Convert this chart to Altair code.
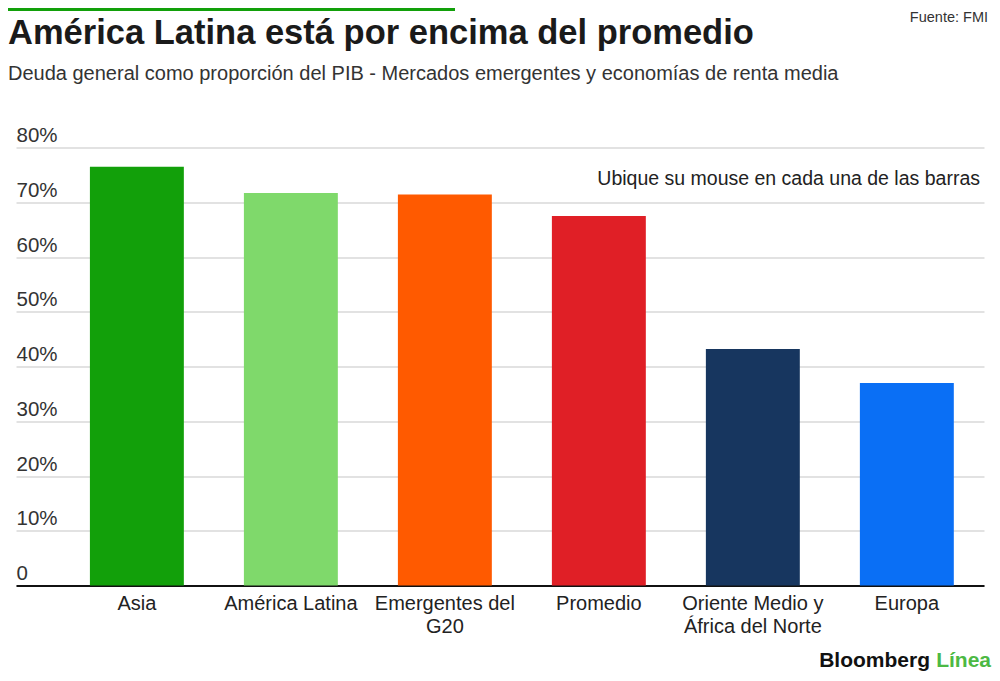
import altair as alt
import pandas as pd

categories = ["Asia", "América Latina", "Emergentes del G20", "Promedio",
              "Oriente Medio y África del Norte", "Europa"]
values = [76.5, 71.7, 71.4, 67.5, 43.2, 37.0]
colors = ["#12a00a", "#7fd96b", "#ff5a00", "#e01f26", "#17365f", "#0a6ff5"]
y_ticks = [0, 10, 20, 30, 40, 50, 60, 70, 80]

title = "América Latina está por encima del promedio"
subtitle = "Deuda general como proporción del PIB -  Mercados emergentes y economías de renta media"
source = "Fuente: FMI"
note = "Ubique su mouse en cada una de las barras"

FONT = "Liberation Sans"

df = pd.DataFrame({"region": categories, "deuda": values})

label_expr = ("datum.label == 'Emergentes del G20' ? ['Emergentes del', 'G20'] : "
              "datum.label == 'Oriente Medio y África del Norte' ? ['Oriente Medio y', 'África del Norte'] : datum.label")

bars = alt.Chart(df).mark_bar().encode(
    x=alt.X("region:N", sort=None, title=None,
            scale=alt.Scale(paddingInner=0.39, paddingOuter=0.338, align=0.71),
            axis=alt.Axis(labelAngle=0, labelExpr=label_expr, labelFont=FONT,
                          labelFontSize=20, labelColor="#222222", labelPadding=8,
                          labelLineHeight=23, ticks=False, domain=True,
                          domainColor="#111111", domainWidth=2, grid=False,
                          labelBaseline="top", labelLimit=300)),
    y=alt.Y("deuda:Q", title=None,
            scale=alt.Scale(domain=[0, 80], nice=False),
            axis=alt.Axis(values=y_ticks,
                          labelExpr="datum.value == 0 ? '0' : datum.value + '%'",
                          labelFont=FONT, labelFontSize=20.5, labelColor="#333333",
                          labelAlign="left", labelBaseline="alphabetic",
                          labelPadding=0, labelOffset=-6, ticks=False, domain=False,
                          grid=True, gridColor="#d9d9d9", gridWidth=1.5,
                          labelOverlap=False)),
    color=alt.Color("region:N", sort=None,
                    scale=alt.Scale(domain=categories, range=colors), legend=None),
)


def text_layer(txt, x, y, size, color, weight="normal", align="left"):
    return alt.Chart(pd.DataFrame({"t": [txt]})).mark_text(
        font=FONT, fontSize=size, color=color, fontWeight=weight, align=align,
        baseline="alphabetic"
    ).encode(x=alt.value(x), y=alt.value(y), text="t:N")


top_bar = alt.Chart(pd.DataFrame({"a": [0]})).mark_rect(color="#12a00a").encode(
    x=alt.value(-16), x2=alt.value(439), y=alt.value(-140), y2=alt.value(-136.5)
)

layers = [
    top_bar,
    bars,
    text_layer(title, -8, -103.5, 34.5, "#1a1a1a", weight="bold"),
    text_layer(subtitle, -8, -67.5, 20, "#333333"),
    text_layer(source, 972, -125.5, 14.5, "#333333", align="right"),
    text_layer(note, 964, 37.5, 19.5, "#222222", align="right"),
    text_layer("Bloomberg", 914, 519.5, 21, "#111111", weight="bold", align="right"),
    text_layer("Línea", 975, 519.5, 21, "#4cb944", weight="bold", align="right"),
]

chart = alt.layer(*layers).properties(
    width=968, height=438,
    autosize=alt.AutoSizeParams(type="none"),
    padding={"left": 8, "top": 139.5, "right": 8, "bottom": 87},
).configure_view(stroke=None)

chart.save("out.html", embed_options={"renderer": "svg", "actions": False})
